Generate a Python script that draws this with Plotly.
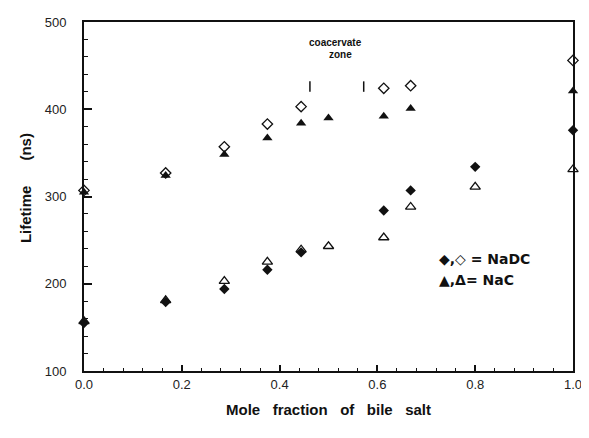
import plotly.graph_objects as go

# NaDC (diamonds)
x_nadc_open = [0.0, 0.167, 0.287, 0.375, 0.444, 0.613, 0.668, 1.0]
y_nadc_open = [307, 327, 357, 383, 403, 424, 427, 456]
x_nadc_fill = [0.0, 0.167, 0.287, 0.375, 0.444, 0.613, 0.668, 0.8, 1.0]
y_nadc_fill = [155, 179, 194, 216, 236, 284, 307, 334, 376]
# NaC (triangles)
x_nac_fill = [0.0, 0.167, 0.287, 0.375, 0.444, 0.5, 0.613, 0.668, 1.0]
y_nac_fill = [305, 324, 348, 367, 384, 390, 392, 401, 421]
x_nac_open = [0.0, 0.167, 0.287, 0.375, 0.444, 0.5, 0.613, 0.668, 0.8, 1.0]
y_nac_open = [157, 181, 203, 225, 239, 243, 253, 288, 311, 331]

# coacervate zone boundaries
zone_x = [0.462, 0.572]
zone_y = [420, 432]

x_tickvals = [0.0, 0.2, 0.4, 0.6, 0.8, 1.0]
x_ticktext = ["0.0", "0.2", "0.4", "0.6", "0.8", "1.0"]
y_tickvals = [100, 200, 300, 400, 500]

INK = "#111111"
FONT = "Liberation Sans, Arial, sans-serif"

fig = go.Figure()

def add(xs, ys, symbol, size, lw=1.3):
    fig.add_trace(go.Scatter(
        x=xs, y=ys, mode="markers", cliponaxis=False, showlegend=False,
        marker=dict(symbol=symbol, size=size, color=INK,
                    line=dict(color=INK, width=lw)),
    ))

add(x_nadc_open, y_nadc_open, "diamond-open", 8)
add(x_nac_open, y_nac_open, "triangle-up-open", 9)
add(x_nac_fill, y_nac_fill, "triangle-up", 9, 0)
add(x_nadc_fill, y_nadc_fill, "diamond", 8, 0)

for zx in zone_x:
    fig.add_shape(type="line", x0=zx, x1=zx, y0=zone_y[0], y1=zone_y[1],
                  xref="x", yref="y", line=dict(color=INK, width=1.5))

annotations = [
    dict(x=0.515, y=477, xref="x", yref="y", text="<b>coacervate</b>",
         showarrow=False, font=dict(size=10, family=FONT, color=INK)),
    dict(x=0.525, y=463, xref="x", yref="y", text="<b>zone</b>",
         showarrow=False, font=dict(size=10, family=FONT, color=INK)),
    dict(x=0.721, y=228, xref="x", yref="y", xanchor="left",
         text="<b>◆,◇ = NaDC</b>", showarrow=False,
         font=dict(size=14, family="DejaVu Sans, Liberation Sans", color=INK)),
    dict(x=0.721, y=204, xref="x", yref="y", xanchor="left",
         text="<b>▲,Δ= NaC</b>", showarrow=False,
         font=dict(size=14, family="DejaVu Sans, Liberation Sans", color=INK)),
    dict(x=0.5, y=-0.110, xref="paper", yref="paper",
         xanchor="center", yanchor="middle",
         text="<b>Mole   fraction   of   bile   salt</b>", showarrow=False,
         font=dict(size=15, family=FONT, color=INK)),
    dict(x=-0.120, y=0.525, xref="paper", yref="paper", textangle=-90,
         xanchor="center", yanchor="middle",
         text="<b>Lifetime      (ns)</b>", showarrow=False,
         font=dict(size=15, family=FONT, color=INK)),
]

# the page body has an 8px default margin: size the figure so it fits the window
fig.update_layout(
    width=581, height=430,
    margin=dict(l=76, r=14, t=7, b=67),
    paper_bgcolor="white", plot_bgcolor="white",
    font=dict(family=FONT, size=13, color="#222222"),
    annotations=annotations,
    xaxis=dict(
        range=[0, 1], tickvals=x_tickvals, ticktext=x_ticktext,
        ticks="inside", ticklen=6, tickwidth=1.5, tickcolor=INK,
        minor=dict(dtick=0.04, ticks="inside", ticklen=3, tickwidth=1.2, tickcolor=INK),
        showline=True, linewidth=2, linecolor=INK, mirror=True,
        showgrid=False, zeroline=False, ticklabelstandoff=0,
    ),
    yaxis=dict(
        range=[100, 500], tickvals=y_tickvals,
        ticks="inside", ticklen=8, tickwidth=1.5, tickcolor=INK,
        minor=dict(dtick=20, ticks="inside", ticklen=4, tickwidth=1.2, tickcolor=INK),
        showline=True, linewidth=2, linecolor=INK, mirror=True,
        showgrid=False, zeroline=False, ticklabelstandoff=13,
    ),
)

fig.write_html("out.html")
